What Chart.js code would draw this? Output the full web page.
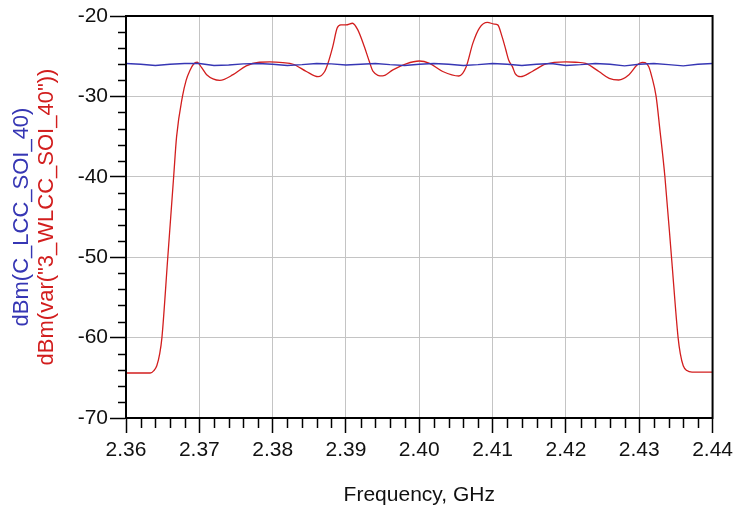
<!DOCTYPE html>
<html>
<head>
<meta charset="utf-8">
<script src="https://cdn.jsdelivr.net/npm/chart.js@4/dist/chart.umd.min.js"></script>
<style>
  html, body { margin: 0; padding: 0; background: #ffffff; }
  #wrap { width: 738px; height: 512px; position: relative; }
</style>
</head>
<body>
<div id="wrap"><canvas id="c" width="738" height="512"></canvas></div>
<script>
// ---- data ----
const xTicks = [2.36, 2.37, 2.38, 2.39, 2.40, 2.41, 2.42, 2.43, 2.44];
const yTicks = [-70, -60, -50, -40, -30, -20];

const blueName = 'dBm(C_LCC_SOI_40)';
const redName = 'dBm(var("3_WLCC_SOI_40"))';
const xTitle = 'Frequency, GHz';

const blueFreq = [2.360, 2.362, 2.364, 2.366, 2.368, 2.370, 2.372, 2.374, 2.376, 2.378,
                  2.380, 2.382, 2.384, 2.386, 2.388, 2.390, 2.392, 2.394, 2.396, 2.398,
                  2.400, 2.402, 2.404, 2.406, 2.408, 2.410, 2.412, 2.414, 2.416, 2.418,
                  2.420, 2.422, 2.424, 2.426, 2.428, 2.430, 2.432, 2.434, 2.436, 2.438, 2.440];
const blueDbm = [-25.9, -26.0, -26.15, -26.0, -25.9, -25.9, -26.15, -26.1, -25.95, -25.9,
                 -26.0, -26.15, -26.05, -25.9, -25.95, -26.1, -26.0, -25.9, -26.05, -26.15,
                 -26.0, -25.9, -26.0, -26.15, -26.05, -25.9, -26.0, -26.15, -26.0, -25.9,
                 -26.15, -26.05, -25.9, -26.0, -26.2, -26.0, -25.9, -26.05, -26.2, -26.0, -25.9];

const redFreq = [2.3600, 2.3633, 2.3638, 2.3642, 2.3646, 2.3649, 2.3657, 2.3665, 2.3669, 2.3677,
                 2.3682, 2.3687, 2.3692, 2.3697, 2.3703, 2.3710, 2.3728, 2.3746, 2.3764, 2.3782,
                 2.3796, 2.3814, 2.3828, 2.3846, 2.3862, 2.3871, 2.3875, 2.3882, 2.3888, 2.3893,
                 2.3900, 2.3909, 2.3916, 2.3925, 2.3932, 2.3937, 2.3950, 2.3964, 2.3982, 2.4000,
                 2.4014, 2.4032, 2.4054, 2.4064, 2.4073, 2.4082, 2.4093, 2.4102, 2.4107, 2.4113,
                 2.4118, 2.4122, 2.4127, 2.4131, 2.4138, 2.4154, 2.4172, 2.4200, 2.4213, 2.4227,
                 2.4245, 2.4259, 2.4272, 2.4286, 2.4297, 2.4304, 2.4308, 2.4313, 2.4317, 2.4323,
                 2.4328, 2.4335, 2.4344, 2.4353, 2.4356, 2.4360, 2.4365, 2.4372, 2.4400];
const redDbm = [-64.4, -64.4, -64.1, -63.5, -62.0, -60.0, -50.0, -40.0, -35.0, -30.0,
                -28.0, -26.8, -26.0, -25.75, -26.4, -27.3, -28.0, -27.3, -26.2, -25.75,
                -25.7, -25.8, -26.0, -26.9, -27.55, -26.9, -26.0, -23.8, -21.5, -21.1,
                -21.1, -20.9, -21.7, -23.8, -25.7, -26.9, -27.45, -26.7, -25.95, -25.6,
                -25.9, -26.9, -27.46, -26.3, -23.4, -21.5, -20.8, -21.0, -21.1, -22.6,
                -24.2, -25.5, -26.3, -27.2, -27.55, -26.9, -26.0, -25.7, -25.75, -25.9,
                -26.9, -27.75, -27.96, -27.3, -26.1, -25.76, -25.8, -26.3, -27.5, -30.0,
                -34.0, -40.0, -50.0, -60.0, -62.0, -63.5, -64.1, -64.3, -64.3];

const xMinorStep = 0.002;
const yMinorStep = 2;

// ---- build chart ----
const zip = (xs, ys) => xs.map((x, i) => ({ x: x, y: ys[i] }));
const FONT = "'Liberation Sans', Arial, sans-serif";

const frameAndMinorTicks = {
  id: 'frameAndMinorTicks',
  afterDraw(chart) {
    const ctx = chart.ctx;
    const a = chart.chartArea;
    const xs = chart.scales.x, ys = chart.scales.y;
    ctx.save();
    ctx.strokeStyle = '#000';
    ctx.lineWidth = 1.5;
    const nx = Math.round((xTicks[xTicks.length - 1] - xTicks[0]) / xMinorStep);
    for (let i = 0; i <= nx; i++) {
      if (i % 5 === 0) continue;
      const v = xTicks[0] + i * xMinorStep;
      const px = Math.round(xs.getPixelForValue(v)) + 0.5;
      ctx.beginPath(); ctx.moveTo(px, a.bottom); ctx.lineTo(px, a.bottom + 10); ctx.stroke();
    }
    const ny = Math.round((yTicks[yTicks.length - 1] - yTicks[0]) / yMinorStep);
    for (let i = 0; i <= ny; i++) {
      if (i % 5 === 0) continue;
      const v = yTicks[0] + i * yMinorStep;
      const py = Math.round(ys.getPixelForValue(v)) + 0.5;
      ctx.beginPath(); ctx.moveTo(a.left - 8, py); ctx.lineTo(a.left, py); ctx.stroke();
    }
    ctx.lineWidth = 2;
    ctx.strokeRect(a.left, a.top, a.right - a.left, a.bottom - a.top);
    ctx.restore();
  }
};

new Chart(document.getElementById('c'), {
  type: 'line',
  data: {
    datasets: [
      {
        label: blueName,
        data: zip(blueFreq, blueDbm),
        borderColor: '#3636b4',
        borderWidth: 1.4,
        pointRadius: 0,
        tension: 0,
        yAxisID: 'y'
      },
      {
        label: redName,
        data: zip(redFreq, redDbm),
        borderColor: '#d21e1e',
        borderWidth: 1.3,
        pointRadius: 0,
        cubicInterpolationMode: 'monotone',
        yAxisID: 'y'
      }
    ]
  },
  options: {
    responsive: false,
    animation: false,
    events: [],
    layout: { padding: { top: 16, right: 24, left: 0, bottom: 0 } },
    plugins: { legend: { display: false }, tooltip: { enabled: false } },
    scales: {
      x: {
        type: 'linear',
        min: xTicks[0],
        max: xTicks[xTicks.length - 1],
        afterBuildTicks: s => { s.ticks = xTicks.map(v => ({ value: v })); },
        afterFit: s => { s.height = 94; },
        grid: { color: '#c4c4c4', lineWidth: 1, tickLength: 15, tickColor: '#000', tickWidth: 1.5 },
        border: { display: true, color: '#000', width: 2 },
        ticks: {
          color: '#111', padding: 5, maxRotation: 0, autoSkip: false,
          font: { family: FONT, size: 21 },
          callback: v => Number(v).toFixed(2)
        },
        title: {
          display: true, text: xTitle, color: '#111',
          font: { family: FONT, size: 21 },
          padding: { top: 0, bottom: 4 }
        }
      },
      y: {
        type: 'linear',
        position: 'left',
        weight: 0,
        min: yTicks[0],
        max: yTicks[yTicks.length - 1],
        afterBuildTicks: s => { s.ticks = yTicks.map(v => ({ value: v })); },
        afterFit: s => { s.width = 96; },
        grid: { color: '#c4c4c4', lineWidth: 1, tickLength: 16, tickColor: '#000', tickWidth: 1.5 },
        border: { display: true, color: '#000', width: 2 },
        ticks: {
          color: '#111', padding: 2, autoSkip: false,
          font: { family: FONT, size: 21 },
          callback: v => String(v)
        },
        title: {
          display: true, text: redName, color: '#d21e1e',
          font: { family: FONT, size: 22 },
          padding: { top: 4, bottom: 0 }
        }
      },
      y2: {
        type: 'linear',
        position: 'left',
        weight: 1,
        min: yTicks[0],
        max: yTicks[yTicks.length - 1],
        afterFit: s => { s.width = 30; },
        grid: { display: false },
        border: { display: false },
        ticks: { display: false },
        title: {
          display: true, text: blueName, color: '#3636b4',
          font: { family: FONT, size: 22 },
          padding: { top: 9, bottom: 0 }
        }
      }
    }
  },
  plugins: [frameAndMinorTicks]
});
</script>
</body>
</html>
